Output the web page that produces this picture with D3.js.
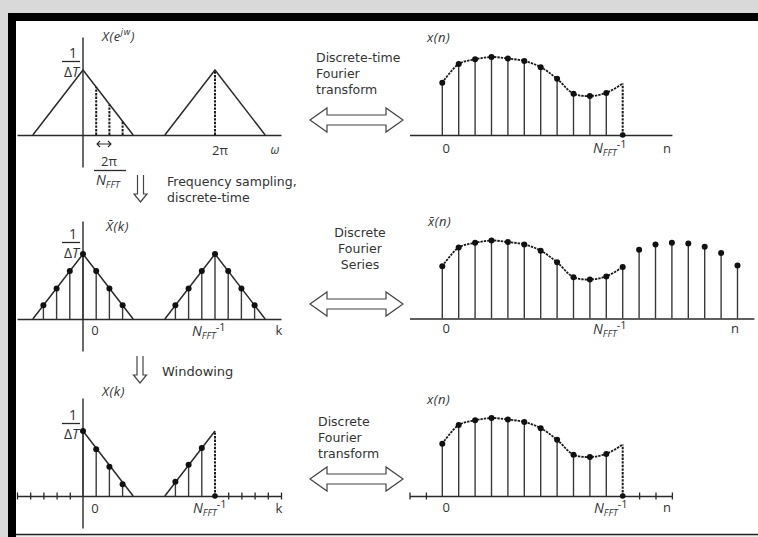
<!DOCTYPE html>
<html><head><meta charset="utf-8">
<script src="https://cdn.jsdelivr.net/npm/d3@7"></script>
<style>body{margin:0;background:#fff}svg{display:block}</style>
</head><body>
<svg id="c" width="758" height="537"></svg>
<script>
// ---------- data ----------
// time sequence x(n), n = 0..N_FFT-1 (relative amplitude)
const xnValues = [0.67, 0.91, 0.97, 1.00, 0.98, 0.95, 0.87, 0.72, 0.53, 0.50, 0.54, 0.66];
// periodic extension of x~(n), n = 12..18
const xnExtValues = [0.88, 0.95, 0.97, 0.96, 0.92, 0.84, 0.68];
const xnExtIndex = [12, 13, 14, 15, 16, 17, 18];
// spectrum triangles (k units, value in 1/ΔT)
const triangle1 = [[-3.8, 0], [0, 1], [3.8, 0]];
const triangle2 = [[6.2, 0], [10, 1], [13.8, 0]];
// sampled spectrum X~(k)
const kIndex1 = [-3, -2, -1, 0, 1, 2, 3];
const kIndex2 = [7, 8, 9, 10, 11, 12, 13];
const XkValues = [0.21, 0.47, 0.74, 1.00, 0.74, 0.47, 0.21];
// frequency-sampling marks in top panel
const dtftSampleK = [1, 2, 3, 10];
const dtftSampleV = [0.74, 0.47, 0.21, 1.00];
// windowed spectrum X(k)
const winK1 = [0, 1, 2, 3];
const winV1 = [1.00, 0.72, 0.45, 0.18];
const winK2 = [7, 8, 9];
const winV2 = [0.22, 0.48, 0.74];
const winTicksK = [-5, -4, -3, -2, -1, 11, 12, 13, 14, 15];
const winTicksN = [-2, -1, 12, 13, 14];
const lastK = 10, lastN = 11;

const svg = d3.select("#c");
const INK = "#2a2a2a", TXT = "#333";
const FONT = "'Open Sans', 'Noto Sans', sans-serif";
const BODY = "'DejaVu Sans', sans-serif";

// ---------- frame ----------
svg.append("rect").attr("x",0).attr("y",0).attr("width",758).attr("height",537).attr("fill","#d9d9d9");
svg.append("rect").attr("x",16).attr("y",21).attr("width",742).attr("height",513).attr("fill","#fff");
svg.append("rect").attr("x",16).attr("y",535).attr("width",742).attr("height",2).attr("fill","#eeeeee");
svg.append("rect").attr("x",8).attr("y",13).attr("width",750).attr("height",8).attr("fill","#000");
svg.append("rect").attr("x",8).attr("y",13).attr("width",8).attr("height",524).attr("fill","#000");
svg.append("line").attr("x1",16).attr("x2",758).attr("y1",534.5).attr("y2",534.5).attr("stroke","#222").attr("stroke-width",1.5);

const g = svg.append("g").attr("font-family", FONT).attr("fill", TXT);

function txt(x, y, s, opts = {}) {
  const t = g.append("text").attr("x", x).attr("y", y).attr("font-size", opts.size || 13)
    .attr("text-anchor", opts.anchor || "start").attr("fill", TXT).text(s);
  if (opts.italic) t.attr("font-style", "italic");
  if (opts.ls) t.attr("letter-spacing", opts.ls);
  if (opts.family) t.attr("font-family", opts.family);
  return t;
}
function lines(x, y, arr, opts = {}) {
  arr.forEach((s, i) => txt(x, y + i * opts.lh, s, { size: opts.size, anchor: opts.anchor, family: BODY }));
}
function nfft(x, y) {
  const t = g.append("text").attr("x", x).attr("y", y).attr("fill", TXT);
  t.append("tspan").attr("font-size", 14).attr("font-style", "italic").text("N");
  t.append("tspan").attr("font-size", 9.5).attr("font-style", "italic").attr("dy", 3).text("FFT");
  t.append("tspan").attr("font-size", 11).attr("dy", -8).text("-1");
}
function invDeltaT(y0) {
  txt(73, y0 - 16, "1", { size: 14, anchor: "middle" });
  g.append("line").attr("x1", 62).attr("x2", 80).attr("y1", y0 - 12.5).attr("y2", y0 - 12.5).attr("stroke", INK).attr("stroke-width", 1.3);
  const t = g.append("text").attr("x", 71.5).attr("y", y0 + 2.5).attr("text-anchor", "middle").attr("font-size", 14).attr("fill", TXT);
  t.append("tspan").text("Δ");
  t.append("tspan").attr("font-style", "italic").text("T");
}
function hAxis(scale, y0, ticks) {
  const ax = d3.axisBottom(scale).tickSize(7).tickSizeOuter(0).tickFormat("").tickValues(ticks || []);
  const a = svg.append("g").attr("transform", `translate(0,${y0})`).call(ax);
  a.select(".domain").attr("stroke", INK).attr("stroke-width", 1.4);
  a.selectAll(".tick line").attr("y1", -3.5).attr("y2", 3.5).attr("stroke", INK).attr("stroke-width", 1.3);
}
function stems(xs, ys, ks, vs, opts = {}) {
  const sg = svg.append("g");
  ks.forEach((k, i) => {
    const l = sg.append("line").attr("x1", xs(k)).attr("x2", xs(k)).attr("y1", ys(0)).attr("y2", ys(vs[i]))
      .attr("stroke", opts.dashed ? "#1a1a1a" : "#3a3a3a").attr("stroke-width", opts.dashed ? 2 : 1.4);
    if (opts.dashed) l.attr("stroke-dasharray", "2.4,1.2");
    if (opts.dots) sg.append("circle").attr("cx", xs(k)).attr("cy", ys(vs[i])).attr("r", 3).attr("fill", "#111");
  });
}
function polyline(xs, ys, pts) {
  svg.append("path").attr("d", d3.line().x(d => xs(d[0])).y(d => ys(d[1]))(pts))
    .attr("fill", "none").attr("stroke", INK).attr("stroke-width", 1.5);
}

// ---------- left panels (frequency) ----------
function leftScales(y0) {
  return [d3.scaleLinear().domain([-5, 15]).range([17, 281]),
          d3.scaleLinear().domain([0, 1]).range([y0, y0 - 65])];
}
function vAxis(xs, ys) {
  svg.append("line").attr("x1", xs(0)).attr("x2", xs(0)).attr("y1", ys(-0.5)).attr("y2", ys(1.5))
    .attr("stroke", INK).attr("stroke-width", 1.4);
}

// Panel 1: DTFT
{
  const y0 = 135, [xs, ys] = leftScales(y0);
  hAxis(xs, y0);
  vAxis(xs, ys);
  polyline(xs, ys, triangle1);
  polyline(xs, ys, triangle2);
  stems(xs, ys, dtftSampleK, dtftSampleV, { dashed: true });
  invDeltaT(74);
  const t = g.append("text").attr("x", 102).attr("y", 41).attr("font-size", 13).attr("font-style", "italic").attr("fill", TXT).attr("letter-spacing", 0.6);
  t.append("tspan").text("X(e");
  t.append("tspan").attr("font-size", 9).attr("dy", -6).text("jw");
  t.append("tspan").attr("dy", 6).text(")");
  // spacing marker ↔
  const ax = 97, bx = 111, ay = 144;
  svg.append("path").attr("d", `M${ax},${ay} H${bx} M${ax+3},${ay-3} L${ax},${ay} L${ax+3},${ay+3} M${bx-3},${ay-3} L${bx},${ay} L${bx-3},${ay+3}`)
    .attr("fill", "none").attr("stroke", INK).attr("stroke-width", 1.1);
  txt(109, 166, "2π", { size: 13, anchor: "middle" });
  g.append("line").attr("x1", 94).attr("x2", 126).attr("y1", 170.5).attr("y2", 170.5).attr("stroke", INK).attr("stroke-width", 1.3);
  const n = g.append("text").attr("x", 96).attr("y", 185).attr("fill", TXT);
  n.append("tspan").attr("font-size", 14).attr("font-style", "italic").text("N");
  n.append("tspan").attr("font-size", 9.5).attr("font-style", "italic").attr("dy", 3).text("FFT");
  txt(xs(10) + 5, 155, "2π", { size: 13, anchor: "middle" });
  txt(275, 154, "ω", { size: 12, anchor: "middle", italic: true });
}

// Panel 3: sampled spectrum (DFS)
{
  const y0 = 319, [xs, ys] = leftScales(y0);
  hAxis(xs, y0);
  vAxis(xs, ys);
  polyline(xs, ys, triangle1);
  polyline(xs, ys, triangle2);
  stems(xs, ys, kIndex1, XkValues, { dots: true });
  stems(xs, ys, kIndex2, XkValues, { dots: true });
  invDeltaT(255);
  txt(106, 231, "X\u0304(k)", { size: 13, italic: true, ls: 0.6 });
  txt(xs(0) + 12, 335, "0", { size: 13, anchor: "middle" });
  nfft(192, 336);
  txt(279, 335, "k", { size: 13, anchor: "middle" });
}

// Panel 5: windowed spectrum
{
  const y0 = 496, [xs, ys] = leftScales(y0);
  hAxis(xs, y0, winTicksK);
  vAxis(xs, ys);
  polyline(xs, ys, [triangle1[1], triangle1[2]]);
  polyline(xs, ys, [triangle2[0], triangle2[1]]);
  stems(xs, ys, winK1, winV1, { dots: true });
  stems(xs, ys, winK2, winV2, { dots: true });
  stems(xs, ys, [lastK], [1], { dashed: true });
  svg.append("circle").attr("cx", xs(lastK)).attr("cy", ys(0)).attr("r", 2.8).attr("fill", "#111");
  invDeltaT(436);
  txt(102, 396, "X(k)", { size: 13, italic: true, ls: 0.6 });
  txt(xs(0) + 12, 513, "0", { size: 13, anchor: "middle" });
  nfft(193, 513);
  txt(279, 513, "k", { size: 13, anchor: "middle" });
}

// ---------- right panels (time) ----------
function rightScales(y0) {
  return [d3.scaleLinear().domain([0, 11]).range([442.3, 622.7]),
          d3.scaleLinear().domain([0, 1]).range([y0, y0 - 78])];
}
function curve(xs, ys) {
  const pts = xnValues.map((v, i) => [i, v]);
  svg.append("path").attr("d", d3.line().curve(d3.curveCatmullRom).x(d => xs(d[0])).y(d => ys(d[1]))(pts))
    .attr("fill", "none").attr("stroke", "#1a1a1a").attr("stroke-width", 1.8).attr("stroke-dasharray", "2.4,1");
}
const nIdx = xnValues.map((v, i) => i);

// Panel 2
{
  const y0 = 135, [xs, ys] = rightScales(y0);
  hAxis(d3.scaleLinear().domain([-2, 14]).range([xs(-2), xs(14)]), y0);
  curve(xs, ys);
  stems(xs, ys, nIdx.slice(0, lastN), xnValues.slice(0, lastN), { dots: true });
  stems(xs, ys, [lastN], [xnValues[lastN]], { dashed: true });
  svg.append("circle").attr("cx", xs(lastN)).attr("cy", ys(0)).attr("r", 2.8).attr("fill", "#111");
  txt(427, 42, "x(n)", { size: 13, italic: true, ls: 0.5 });
  txt(xs(0) + 4, 153, "0", { size: 13, anchor: "middle" });
  nfft(593, 153);
  txt(667, 153, "n", { size: 13, anchor: "middle" });
}

// Panel 4
{
  const y0 = 318.5, [xs, ys] = rightScales(y0);
  hAxis(d3.scaleLinear().domain([-2, 19]).range([xs(-2), xs(19)]), y0);
  curve(xs, ys);
  stems(xs, ys, nIdx, xnValues, { dots: true });
  stems(xs, ys, xnExtIndex, xnExtValues, { dots: true });
  txt(428, 226, "x\u0304(n)", { size: 13, italic: true, ls: 0.5 });
  txt(xs(0) + 4, 333, "0", { size: 13, anchor: "middle" });
  nfft(593, 334);
  txt(735, 333, "n", { size: 13, anchor: "middle" });
}

// Panel 6
{
  const y0 = 496, [xs, ys] = rightScales(y0);
  hAxis(d3.scaleLinear().domain([-2, 14]).range([xs(-2), xs(14)]), y0, winTicksN);
  curve(xs, ys);
  stems(xs, ys, nIdx.slice(0, lastN), xnValues.slice(0, lastN), { dots: true });
  stems(xs, ys, [lastN], [xnValues[lastN]], { dashed: true });
  svg.append("circle").attr("cx", xs(lastN)).attr("cy", ys(0)).attr("r", 2.8).attr("fill", "#111");
  txt(427, 404, "x(n)", { size: 13, italic: true, ls: 0.5 });
  txt(xs(0) + 4, 512, "0", { size: 13, anchor: "middle" });
  nfft(594, 513);
  txt(667, 512, "n", { size: 13, anchor: "middle" });
}

// ---------- transform arrows and labels ----------
function dblArrow(x1, x2, yc) {
  const hl = 17, hh = 12, sh = 5;
  const d = `M${x1},${yc} L${x1+hl},${yc-hh} L${x1+hl},${yc-sh} L${x2-hl},${yc-sh} L${x2-hl},${yc-hh} L${x2},${yc}
             L${x2-hl},${yc+hh} L${x2-hl},${yc+sh} L${x1+hl},${yc+sh} L${x1+hl},${yc+hh} Z`;
  svg.append("path").attr("d", d).attr("fill", "#fff").attr("stroke", "#444").attr("stroke-width", 1.2).attr("stroke-linejoin", "miter");
}
function downArrow(x, y1, y2) {
  const d = `M${x-3},${y1} V${y2-8} H${x-6.5} L${x},${y2} L${x+6.5},${y2-8} H${x+3} V${y1}`;
  svg.append("path").attr("d", d).attr("fill", "none").attr("stroke", "#444").attr("stroke-width", 1.2);
}

lines(316, 62, ["Discrete-time", "Fourier", "transform"], { size: 12.5, lh: 16 });
dblArrow(310, 403, 120);
lines(360, 237, ["Discrete", "Fourier", "Series"], { size: 12.5, lh: 16, anchor: "middle" });
dblArrow(310, 403, 304);
lines(318, 426, ["Discrete", "Fourier", "transform"], { size: 12.5, lh: 16 });
dblArrow(310, 403, 479);

downArrow(140.5, 175, 202);
lines(167, 186, ["Frequency sampling,", "discrete-time"], { size: 12.5, lh: 15.5 });
downArrow(140, 356, 383);
txt(162, 376, "Windowing", { size: 13, family: BODY });
</script>
</body></html>
